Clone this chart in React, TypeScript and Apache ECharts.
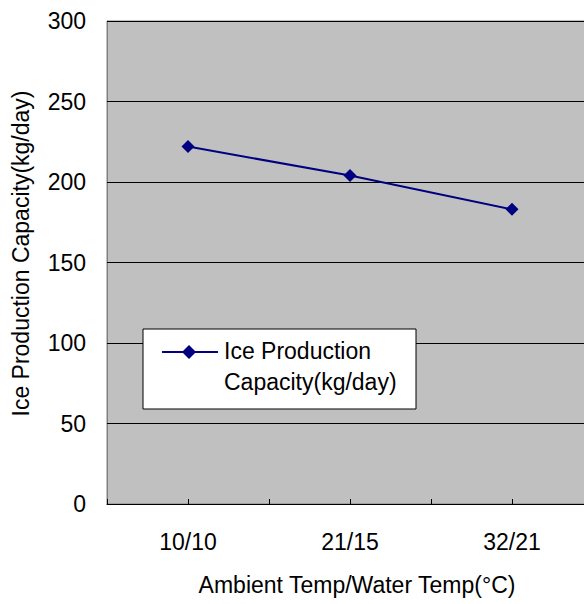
import React, { useEffect, useRef } from "react";
import * as echarts from "echarts";

const categories = ["", "10/10", "", "21/15", "", "32/21", ""];
const capacity = [null, 222, null, 204, null, 183, null];
const yTicks = { min: 0, max: 300, interval: 50 };
const seriesName = "Ice Production Capacity(kg/day)";
const xTitle = "Ambient Temp/Water Temp(°C)";
const yTitle = "Ice Production Capacity(kg/day)";

const FONT = "'Liberation Sans', Arial, sans-serif";
const FS = 23;

export default function App() {
  const ref = useRef<HTMLDivElement>(null);
  useEffect(() => {
    if (!ref.current) return;
    const chart = echarts.init(ref.current, null, { renderer: "svg" });
    chart.setOption({
      animation: false,
      backgroundColor: "#ffffff",
      textStyle: { fontFamily: FONT },
      grid: {
        left: 107,
        top: 21,
        bottom: 100,
        width: 486,
        outerBoundsMode: "none",
        containLabel: false,
        show: true,
        backgroundColor: "#C0C0C0",
        borderColor: "#808080",
        borderWidth: 1,
      },
      xAxis: {
        type: "category",
        data: categories,
        boundaryGap: false,
        name: xTitle,
        nameLocation: "middle",
        nameGap: 69,
        nameTextStyle: { fontSize: FS, color: "#000", fontFamily: FONT, padding: [0, 0, 0, 14] },
        axisLine: { lineStyle: { color: "#000", width: 1 } },
        axisTick: { show: true, inside: true, length: 5, interval: 0, lineStyle: { color: "#000" } },
        axisLabel: { interval: 0, fontSize: FS, color: "#000", margin: 26, fontFamily: FONT },
        splitLine: { show: false },
      },
      yAxis: {
        type: "value",
        min: yTicks.min,
        max: yTicks.max,
        interval: yTicks.interval,
        name: yTitle,
        nameLocation: "middle",
        nameGap: 75,
        nameTextStyle: { fontSize: FS, color: "#000", fontFamily: FONT, padding: [0, 0, 0, 18] },
        axisLine: { show: true, lineStyle: { color: "#808080" } },
        axisTick: { show: true, inside: true, length: 3, lineStyle: { color: "#000" } },
        axisLabel: { fontSize: FS, color: "#000", margin: 21, fontFamily: FONT },
        splitLine: { show: true, lineStyle: { color: "#000", width: 1 } },
      },
      series: [
        {
          name: seriesName,
          type: "line",
          data: capacity,
          connectNulls: true,
          symbol: "diamond",
          symbolSize: 13,
          lineStyle: { color: "#000080", width: 2 },
          itemStyle: { color: "#000080" },
        },
      ],
      graphic: [
        {
          type: "rect",
          shape: { x: 143, y: 329, width: 273, height: 80 },
          style: { fill: "#ffffff", stroke: "#000", lineWidth: 1 },
          z: 100,
        },
        {
          type: "line",
          shape: { x1: 162, y1: 352, x2: 218, y2: 352 },
          style: { stroke: "#000080", lineWidth: 2 },
          z: 101,
        },
        {
          type: "polygon",
          shape: { points: [[189, 345], [196, 352], [189, 359], [182, 352]] },
          style: { fill: "#000080" },
          z: 102,
        },
        {
          type: "text",
          x: 224,
          y: 335,
          style: {
            text: "Ice Production\nCapacity(kg/day)",
            fontSize: FS,
            lineHeight: 31,
            fill: "#000",
            fontFamily: FONT,
          },
          z: 102,
        },
      ],
    });
    return () => chart.dispose();
  }, []);
  return (
    <div
      ref={ref}
      style={{ position: "fixed", left: 0, top: 0, width: 584, height: 604 }}
    />
  );
}
